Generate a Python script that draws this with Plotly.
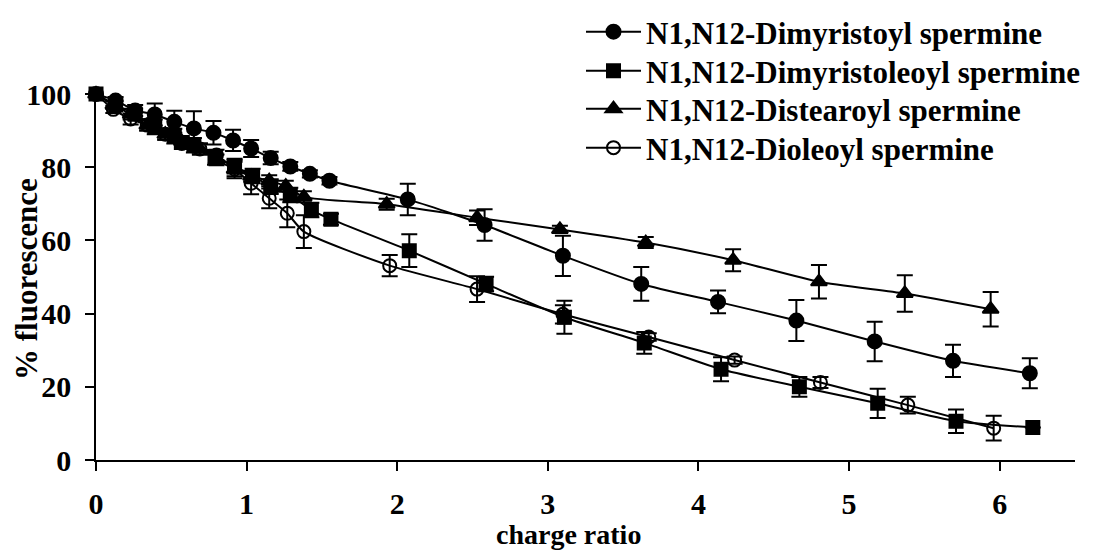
import plotly.graph_objects as go

# ---------------- data ----------------
names = [
    "N1,N12-Dimyristoyl spermine",
    "N1,N12-Dimyristoleoyl spermine",
    "N1,N12-Distearoyl spermine",
    "N1,N12-Dioleoyl spermine",
]

dimyristoyl_x = [0, 0.13, 0.26, 0.39, 0.52, 0.65, 0.78, 0.91, 1.03, 1.16, 1.29, 1.42, 1.55,
                 2.07, 2.58, 3.10, 3.62, 4.13, 4.65, 5.17, 5.69, 6.20]
dimyristoyl_y = [100, 98.2, 95.5, 94.4, 92.4, 90.6, 89.4, 87.3, 85.1, 82.5, 80.2, 78.2, 76.3,
                 71.2, 64.2, 55.8, 48.1, 43.2, 38.1, 32.4, 27.1, 23.7]
dimyristoyl_e = [0, 1, 1.5, 3, 3, 4.7, 3.2, 2.9, 2.3, 1.7, 1.2, 1, 1,
                 4.3, 4.3, 5.5, 4.6, 3.1, 5.6, 5.4, 4.4, 4.1]

dimyristoleoyl_x = [0, 0.13, 0.26, 0.39, 0.52, 0.65, 0.79, 0.92, 1.04, 1.16, 1.29, 1.43, 1.56,
                    2.08, 2.59, 3.11, 3.64, 4.15, 4.67, 5.19, 5.71, 6.22]
dimyristoleoyl_y = [100, 97, 94.5, 91, 88.5, 86, 82.7, 80.3, 77.6, 74.7, 72.4, 68.3, 65.8,
                    57.2, 48.1, 39.0, 32.0, 24.8, 20.0, 15.5, 10.6, 8.9]
dimyristoleoyl_e = [0, 1, 1.5, 2, 2, 2, 2, 2, 2, 2, 2, 2, 1.5,
                    4.5, 2, 4.5, 3, 3.3, 2.7, 4, 3.2, 0]

distearoyl_x = [0, 0.115, 0.23, 0.34, 0.46, 0.57, 0.69, 0.80, 0.92, 1.03, 1.15, 1.26, 1.38,
                1.93, 2.53, 3.08, 3.65, 4.23, 4.80, 5.37, 5.94]
distearoyl_y = [100, 97, 94.5, 91.5, 89, 87, 85, 82, 79.5, 77.5, 76.3, 74.8, 71.9,
                69.9, 66.2, 63.0, 59.4, 54.6, 48.7, 45.5, 41.2]
distearoyl_e = [0, 1, 1.5, 1.5, 1.5, 1.5, 1.5, 1.5, 2, 1.5, 1.5, 1.5, 1.5,
                1.5, 2, 1, 1.5, 3, 4.6, 5, 4.7]

dioleoyl_x = [0, 0.115, 0.23, 0.34, 0.46, 0.57, 0.69, 0.80, 0.92, 1.03, 1.15, 1.27, 1.38,
              1.95, 2.53, 3.10, 3.67, 4.24, 4.81, 5.39, 5.96]
dioleoyl_y = [100, 95.8, 93.2, 91.5, 89, 86.5, 85, 83.3, 79.5, 75.6, 71.5, 67.4, 62.4,
              53.1, 46.7, 39.8, 33.6, 27.3, 21.2, 15.0, 8.7]
dioleoyl_e = [0, 1, 1.5, 1.5, 1.5, 1.5, 1.5, 1.5, 2.5, 3, 2.7, 3.8, 4.5,
              2.9, 3.5, 2.5, 1, 1, 1.5, 2.3, 3.4]

x_ticks = [0, 1, 2, 3, 4, 5, 6]
y_ticks = [0, 20, 40, 60, 80, 100]

# ---------------- figure ----------------
FONT = "Liberation Serif, Times New Roman, serif"
OFF = 8                       # page body margin of the browser
W, H = 1098 - OFF, 551 - OFF
L, R, T, B = 96 - OFF, 23, 94 - OFF, 91
PW, PH = W - L - R, H - T - B


def px_x(px):                 # reference pixel -> paper x
    return (px - OFF - L) / PW


def px_y(py):                 # reference pixel -> paper y
    return (H - B - (py - OFF)) / PH


series = [
    (dimyristoyl_x, dimyristoyl_y, dimyristoyl_e, "circle", 14),
    (dimyristoleoyl_x, dimyristoleoyl_y, dimyristoleoyl_e, "square", 13),
    (distearoyl_x, distearoyl_y, distearoyl_e, "triangle-up", 14),
    (dioleoyl_x, dioleoyl_y, dioleoyl_e, "circle-open", 13),
]
legend_ids = ["legend", "legend2", "legend3", "legend4"]
legend_rows = [32, 71, 109, 148]

fig = go.Figure()
for name, (xs, ys, es, sym, sz), lid in zip(names, series, legend_ids):
    fig.add_trace(go.Scatter(
        x=xs, y=ys, name=name, mode="lines+markers", legend=lid,
        line=dict(color="black", width=2, shape="spline", smoothing=0.6),
        marker=dict(symbol=sym, size=sz, color="black",
                    line=dict(color="black", width=2)),
        error_y=dict(type="data", array=es, visible=True, color="black",
                     thickness=2, width=8),
        cliponaxis=False,
    ))

legend_layout = {}
for lid, yc in zip(legend_ids, legend_rows):
    legend_layout[lid] = dict(
        x=px_x(581), y=px_y(yc), xanchor="left", yanchor="middle",
        font=dict(family=FONT, size=31, color="black", weight="bold"),
        bgcolor="rgba(0,0,0,0)", itemwidth=55)

fig.update_layout(
    width=W, height=H,
    margin=dict(l=L, r=R, t=T, b=B, autoexpand=False),
    paper_bgcolor="white", plot_bgcolor="white",
    font=dict(family=FONT, size=30, color="black", weight="bold"),
    showlegend=True,
    xaxis=dict(range=[0, 6.5], tickvals=x_ticks, ticks="outside", ticklen=9,
               tickwidth=1.5, tickcolor="black", showline=True, linecolor="black",
               linewidth=1.5, showgrid=False, zeroline=False, automargin=False,
               ticklabelstandoff=7,
               tickfont=dict(family=FONT, size=30, weight="bold")),
    yaxis=dict(range=[0, 100], tickvals=y_ticks, ticks="outside", ticklen=9,
               tickwidth=1.5, tickcolor="black", showline=True, linecolor="black",
               linewidth=1.5, showgrid=False, zeroline=False, automargin=False,
               ticklabelstandoff=8,
               tickfont=dict(family=FONT, size=30, weight="bold")),
    annotations=[
        dict(text="charge ratio", xref="paper", yref="paper",
             x=px_x(568), y=px_y(534), xanchor="center", yanchor="middle",
             showarrow=False, font=dict(family=FONT, size=28, weight="bold")),
        dict(text="% fluorescence", xref="paper", yref="paper",
             x=px_x(26), y=px_y(279), xanchor="center", yanchor="middle",
             textangle=-90, showarrow=False, font=dict(family=FONT, size=31, weight="bold")),
    ],
    **legend_layout,
)

fig.write_html("out.html")
